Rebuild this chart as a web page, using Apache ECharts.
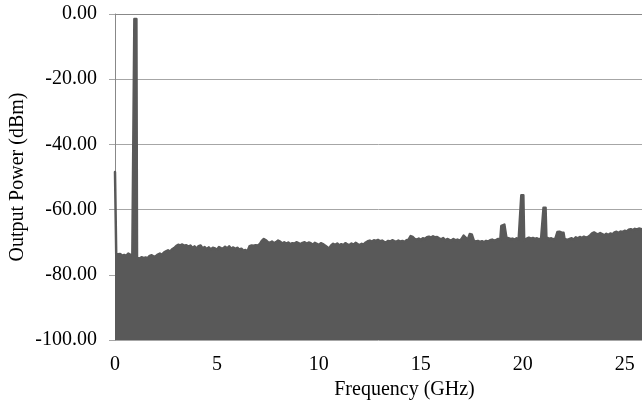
<!DOCTYPE html>
<html>
<head>
<meta charset="utf-8">
<script src="https://cdn.jsdelivr.net/npm/echarts@6/dist/echarts.min.js"></script>
<style>html,body{margin:0;padding:0;background:#fff;}#c{width:642px;height:406px;}</style>
</head>
<body>
<div id="c"></div>
<script>
var xTicks = [0, 5, 10, 15, 20, 25];
var yTicks = [-100, -80, -60, -40, -20, 0];
var xTitle = 'Frequency (GHz)';
var yTitle = 'Output Power (dBm)';
var freqGHz = [
0.00,0.03,0.06,0.15,0.25,0.35,0.45,0.55,0.65,0.75,0.85,0.92,0.95,1.05,1.08,1.2,1.3,1.4,1.5,1.6,1.7,1.8,1.9,2.0,
2.1,2.2,2.3,2.4,2.5,2.6,2.7,2.8,2.9,3.0,3.1,3.2,3.3,3.4,3.5,3.6,3.7,3.8,3.9,4.0,4.1,4.2,4.3,4.4,4.5,4.6,4.7,4.8,4.9,5.0,
5.1,5.2,5.3,5.4,5.5,5.6,5.7,5.8,5.9,6.0,6.1,6.2,6.3,6.4,6.5,6.6,6.7,6.8,6.9,7.0,7.1,7.2,7.3,7.4,7.5,7.6,7.7,7.8,7.9,8.0,
8.1,8.2,8.3,8.4,8.5,8.6,8.7,8.8,8.9,9.0,9.1,9.2,9.3,9.4,9.5,9.6,9.7,9.8,9.9,10.0,
10.1,10.2,10.3,10.4,10.5,10.6,10.7,10.8,10.9,11.0,11.1,11.2,11.3,11.4,11.5,11.6,11.7,11.8,11.9,12.0,
12.1,12.2,12.3,12.4,12.5,12.6,12.7,12.8,12.9,13.0,13.1,13.2,13.3,13.4,13.5,13.6,13.7,13.8,13.9,14.0,
14.1,14.2,14.3,14.4,14.5,14.6,14.7,14.8,14.9,15.0,15.1,15.2,15.3,15.4,15.5,15.6,15.7,15.8,15.9,16.0,
16.1,16.2,16.3,16.4,16.5,16.6,16.7,16.8,16.9,17.0,17.1,17.2,17.3,17.4,17.5,17.6,17.7,17.8,17.9,18.0,
18.1,18.2,18.3,18.4,18.5,18.6,18.7,18.8,18.9,18.95,19.1,19.17,19.2,19.3,19.4,19.5,19.6,19.7,19.8,19.88,19.93,20.03,20.07,
20.2,20.3,20.4,20.5,20.6,20.7,20.8,20.9,20.98,21.02,21.12,21.16,21.3,21.4,21.5,21.6,21.7,21.8,21.9,22.0,22.05,
22.2,22.3,22.4,22.5,22.6,22.7,22.8,22.9,23.0,23.1,23.2,23.3,23.4,23.5,23.6,23.7,23.8,23.9,24.0,
24.1,24.2,24.3,24.4,24.5,24.6,24.7,24.8,24.9,25.0,25.1,25.2,25.3,25.4,25.5,25.6,25.7,25.85
];
var powerDbm = [
-48.5,-48.5,-73.8,-74.0,-73.6,-74.1,-73.9,-74.2,-73.5,-73.8,-74.0,-74.3,-1.5,-1.5,-74.8,-75.0,-74.6,-74.9,-74.7,-74.9,-74.2,-74.0,-74.4,-74.3,
-73.8,-73.5,-73.9,-73.2,-72.8,-72.5,-72.9,-72.2,-71.8,-71.2,-70.8,-71.0,-70.7,-71.1,-70.9,-71.4,-71.0,-71.8,-71.3,-72.0,-71.2,-71.0,-71.9,-71.5,-72.1,-71.6,-72.2,-71.7,-71.9,-72.3,
-71.5,-71.8,-72.0,-71.4,-71.9,-71.3,-72.0,-71.6,-72.1,-71.7,-72.3,-72.0,-72.6,-72.4,-72.8,-71.2,-71.0,-71.1,-70.9,-71.0,-70.6,-69.6,-69.0,-69.4,-70.0,-70.2,-69.8,-70.3,-70.0,-69.5,
-69.8,-70.4,-70.0,-70.5,-70.1,-70.6,-70.3,-70.4,-70.0,-70.3,-70.6,-70.2,-70.0,-70.4,-70.1,-70.3,-70.8,-70.2,-70.5,-70.9,
-70.3,-70.6,-71.0,-71.5,-72.0,-71.0,-70.5,-70.8,-70.4,-71.0,-70.6,-70.9,-70.3,-70.7,-70.9,-70.4,-70.8,-70.2,-70.6,-70.9,
-70.5,-70.7,-70.1,-69.7,-69.5,-69.8,-69.4,-69.6,-69.3,-69.7,-69.5,-69.9,-70.0,-69.6,-69.8,-69.4,-69.7,-69.9,-69.5,-69.8,
-69.6,-69.9,-69.4,-69.2,-68.1,-68.4,-69.0,-69.2,-68.9,-69.3,-68.8,-69.0,-68.5,-68.3,-68.6,-68.2,-68.5,-68.4,-68.8,-69.1,
-68.7,-69.4,-69.0,-69.3,-69.5,-69.0,-69.4,-69.2,-69.6,-69.0,-68.0,-68.6,-69.3,-67.5,-67.6,-69.5,-69.8,-69.6,-69.9,-69.7,
-70.0,-69.6,-69.8,-69.4,-69.2,-69.5,-69.3,-69.0,-69.2,-65.0,-64.6,-65.0,-68.6,-68.8,-69.0,-68.9,-69.2,-68.8,-69.1,-69.3,-55.6,-55.6,-69.4,
-68.9,-68.6,-68.9,-68.7,-69.0,-68.8,-69.1,-68.9,-69.2,-59.4,-59.4,-68.5,-69.0,-68.8,-69.1,-68.9,-66.9,-66.8,-67.0,-67.1,-69.0,
-69.3,-69.0,-68.8,-69.2,-68.5,-68.8,-68.4,-68.7,-68.3,-68.6,-68.4,-67.9,-67.3,-67.0,-67.4,-67.6,-67.2,-67.5,-67.9,
-67.4,-67.8,-67.3,-67.6,-67.0,-66.8,-67.2,-66.7,-66.9,-66.5,-66.7,-66.2,-66.0,-66.3,-65.9,-66.1,-65.8,-66.0
];
var seriesData = freqGHz.map(function (f, i) { return [f, powerDbm[i]]; });
var FONT = '"Liberation Serif", "Times New Roman", serif';
var chart = echarts.init(document.getElementById('c'), null, { renderer: 'canvas' });
chart.setOption({
  animation: false,
  backgroundColor: '#ffffff',
  grid: { left: 115, right: 0, top: 14, bottom: 66, containLabel: false, outerBoundsMode: 'none' },
  graphic: [{
    type: 'text', x: 18, y: 177, rotation: Math.PI / 2, silent: true,
    style: { text: yTitle, font: '20px ' + FONT, fill: '#000', align: 'center', verticalAlign: 'middle' }
  }],
  xAxis: {
    type: 'value', min: xTicks[0], max: 25.85, interval: 5,
    name: xTitle, nameLocation: 'middle', nameGap: 40, nameMoveOverlap: false,
    nameTextStyle: { fontFamily: FONT, fontSize: 20, color: '#000', padding: [0, 0, 0, 52] },
    axisLine: { show: true, lineStyle: { color: '#888888' } },
    axisTick: { show: false },
    axisLabel: { fontFamily: FONT, fontSize: 20, color: '#000', margin: 15, showMaxLabel: false,
      formatter: function (v) { return xTicks.indexOf(v) >= 0 ? String(v) : ''; } },
    splitLine: { show: false }
  },
  yAxis: {
    type: 'value', min: yTicks[0], max: yTicks[yTicks.length - 1], interval: 20,
    axisLine: { show: true, lineStyle: { color: '#888888' } },
    axisTick: { show: true, length: 6, lineStyle: { color: '#a6a6a6' } },
    axisLabel: { fontFamily: FONT, fontSize: 20, color: '#000', margin: 18,
      formatter: function (v) { return v.toFixed(2); } },
    splitLine: { show: true, lineStyle: { color: '#a6a6a6', width: 1 } }
  },
  series: [{
    type: 'line', data: seriesData, showSymbol: false, smooth: false,
    lineStyle: { color: '#595959', width: 2.5, join: 'round', cap: 'round' },
    areaStyle: { color: '#595959', opacity: 1, origin: 'start' },
    z: 3
  }]
});
</script>
</body>
</html>
